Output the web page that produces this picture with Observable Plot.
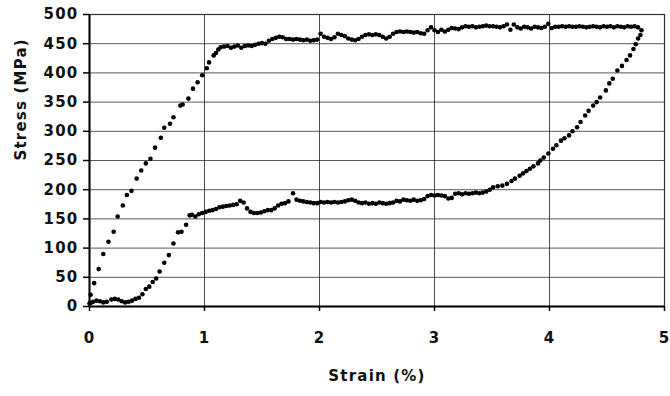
<!DOCTYPE html>
<html>
<head>
<meta charset="utf-8">
<script src="https://cdn.jsdelivr.net/npm/d3@7"></script>
<script src="https://cdn.jsdelivr.net/npm/@observablehq/plot@0.6"></script>
<style>
  html, body { margin: 0; padding: 0; background: #fff; }
  #chart svg { display: block; }
</style>
</head>
<body>
<div id="chart"></div>
<script>
// Loading branch: elastic ramp (strain %, stress MPa)
const loadStrain = [0,0.01,0.04,0.08,0.12,0.165,0.21,0.245,0.29,0.325,0.365,0.41,0.45,0.49,0.53,0.57,0.62,0.65,0.70,0.73,0.79,0.81,0.86,0.90,0.94,0.98,1.02,1.04,1.08,1.10,1.12];
const loadStress = [5,20,40,64,90,111,128,154,173,191,198,219,233,245,253,272,289,306,313,324,344,346,356,373,384,396,408,418,430,434,440];

// Upper plateau
const upperStrain = [1.14,1.17,1.20,1.23,1.26,1.29,1.32,1.35,1.38,1.41,1.44,1.47,1.50,1.53,1.56,1.59,1.62,1.65,1.68,1.71,1.74,1.77,1.80,1.83,1.86,1.89,1.92,1.95,1.98,2.01,2.04,2.07,2.10,2.13,2.16,2.19,2.22,2.25,2.28,2.31,2.34,2.37,2.40,2.43,2.46,2.49,2.52,2.55,2.58,2.61,2.64,2.67,2.70,2.73,2.76,2.79,2.82,2.85,2.88,2.91,2.94,2.97,3.00,3.03,3.06,3.09,3.12,3.15,3.18,3.21,3.24,3.27,3.30,3.33,3.36,3.39,3.42,3.45,3.48,3.51,3.54,3.57,3.60,3.63,3.66,3.69,3.72,3.75,3.78,3.81,3.84,3.87,3.90,3.93,3.96,3.99,4.02,4.05,4.08,4.11,4.14,4.17,4.20,4.23,4.26,4.29,4.32,4.35,4.38,4.41,4.44,4.47,4.50,4.53,4.56,4.59,4.62,4.65,4.68,4.71,4.74,4.77];
const upperStress = [444,445,446,443,445,447,443,446,447,446,448,450,451,450,455,458,460,462,461,458,458,457,458,457,456,457,455,456,457,467,462,460,458,461,467,465,463,459,457,456,458,462,465,466,465,466,465,462,459,462,467,470,471,470,471,470,469,470,468,467,473,478,473,470,474,471,474,477,476,475,478,480,479,480,478,479,480,481,480,480,479,478,480,483,474,483,478,476,479,478,476,479,478,477,479,484,477,479,479,480,479,480,479,479,480,479,478,479,480,479,478,480,479,480,478,480,479,478,480,479,480,478];

// Unloading branch (from max strain back to zero)
const unloadStrain = [4.80,4.79,4.77,4.75,4.73,4.70,4.67,4.63,4.59,4.55,4.52,4.49,4.44,4.41,4.38,4.34,4.31,4.27,4.24,4.20,4.17,4.13,4.10,4.06,4.03,3.99,3.95,3.92,3.90,3.86,3.83,3.80,3.77,3.74,3.70,3.67,3.63,3.59,3.55,3.51,3.48,3.45,3.42,3.39,3.36,3.33,3.30,3.27,3.24,3.21,3.18,3.15,3.12,3.09,3.06,3.03,3.00,2.97,2.94,2.91,2.88,2.85,2.82,2.79,2.76,2.73,2.70,2.67,2.64,2.61,2.58,2.55,2.52,2.49,2.46,2.43,2.40,2.37,2.34,2.31,2.28,2.25,2.22,2.19,2.16,2.13,2.10,2.07,2.04,2.01,1.98,1.95,1.92,1.89,1.86,1.83,1.80,1.77,1.73,1.70,1.67,1.64,1.61,1.58,1.55,1.52,1.49,1.46,1.43,1.40,1.37,1.34,1.31,1.28,1.25,1.22,1.19,1.16,1.13,1.10,1.07,1.04,1.01,0.98,0.95,0.92,0.89,0.87,0.84,0.80,0.77,0.73,0.69,0.65,0.61,0.58,0.55,0.52,0.49,0.46,0.43,0.40,0.37,0.34,0.31,0.28,0.25,0.22,0.19,0.15,0.12,0.09,0.06,0.03,0.01];
const unloadStress = [473,465,459,449,441,430,422,412,404,390,382,370,358,350,344,335,327,316,307,300,293,288,284,276,270,262,255,250,245,240,236,232,228,224,219,215,210,207,206,204,200,197,195,194,195,194,193,194,192,194,193,186,185,189,190,191,190,191,189,184,182,181,183,181,182,183,180,181,178,177,176,177,178,176,177,176,178,177,178,181,183,182,180,179,178,179,178,179,178,179,177,177,178,179,180,181,183,194,180,177,176,173,168,165,165,163,161,160,160,162,168,178,181,175,174,173,172,171,170,167,165,164,162,160,158,154,157,156,140,128,127,108,88,75,60,48,42,34,30,21,15,13,10,8,7,9,12,13,12,8,7,9,10,8,6];

const xTicks = [0, 1, 2, 3, 4, 5];
const yTicks = [0, 50, 100, 150, 200, 250, 300, 350, 400, 450, 500];
const xTitle = "Strain (%)";
const yTitle = "Stress (MPa)";

const points = [
  ...loadStrain.map((s, i) => ({strain: s, stress: loadStress[i]})),
  ...upperStrain.map((s, i) => ({strain: s, stress: upperStress[i]})),
  ...unloadStrain.map((s, i) => ({strain: s, stress: unloadStress[i]}))
];

const font = "'DejaVu Sans', 'Liberation Sans', Arial, sans-serif";

const chart = Plot.plot({
  width: 670,
  height: 396,
  marginLeft: 89,
  marginRight: 6,
  marginTop: 14,
  marginBottom: 90,
  style: {fontFamily: font, fontSize: "15px", color: "#111", background: "#fff", letterSpacing: "1.2px"},
  x: {domain: [0, 5]},
  y: {domain: [0, 500]},
  marks: [
    Plot.gridX(xTicks, {stroke: "#222", strokeOpacity: 0.8, strokeWidth: 1}),
    Plot.gridY(yTicks, {stroke: "#222", strokeOpacity: 0.75, strokeWidth: 1}),
    Plot.frame({stroke: "#333", strokeWidth: 1.2}),
    Plot.ruleX([0], {stroke: "#000", strokeWidth: 2}),
    Plot.ruleY([0], {stroke: "#000", strokeWidth: 2}),
    Plot.axisX(xTicks, {tickSize: 5, tickPadding: 21, tickFormat: d3.format("d"), label: null, stroke: "#000", strokeWidth: 1.5, fontWeight: "bold"}),
    Plot.axisY(yTicks, {tickSize: 6, tickPadding: 5, tickFormat: d3.format("d"), label: null, stroke: "#000", strokeWidth: 1.5, fontWeight: "bold"}),
    Plot.text([xTitle], {frameAnchor: "bottom", dy: 74, fontWeight: "bold", fontSize: 15, fill: "#111"}),
    Plot.text([yTitle], {frameAnchor: "left", dx: -68, rotate: -90, fontWeight: "bold", fontSize: 15, fill: "#111"}),
    Plot.dot(points, {x: "strain", y: "stress", r: 2.3, fill: "#000", stroke: "none"})
  ]
});
document.getElementById("chart").appendChild(chart);
</script>
</body>
</html>
